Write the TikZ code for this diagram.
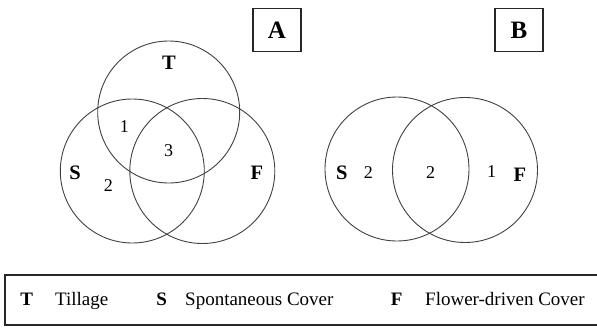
\documentclass[tikz,border=0pt]{standalone}
\usepackage{fontspec}
\setmainfont{Liberation Serif}
\begin{document}
\begin{tikzpicture}[x=1pt,y=-1pt,
  setcircle/.style={circle,draw=black!75,line width=0.9pt,inner sep=0pt,minimum size=#1},
  setname/.style={inner sep=0pt,font=\fontsize{20.5}{24}\selectfont\bfseries},
  count/.style={inner sep=0pt,font=\fontsize{18}{21}\selectfont},
  panel/.style={draw=black!85,line width=1.2pt,inner sep=0pt,minimum width=48pt,minimum height=43pt,
    font=\fontsize{25}{28}\selectfont\bfseries},
  keyname/.style={inner sep=0pt,anchor=base,font=\fontsize{19}{22}\selectfont\bfseries},
  keytext/.style={inner sep=0pt,anchor=base west,font=\fontsize{19}{22}\selectfont}]
\useasboundingbox (0,0) rectangle (597,327);
\clip (0,0) rectangle (597,327);

% panel A: three-set diagram
\node[setcircle=142pt] (cT) at (168.7,112) {};
\node[setcircle=144pt] (cS) at (132.3,171) {};
\node[setcircle=145pt] (cF) at (202.3,171) {};
\node[panel] (pA) at (277,30) {A};
\node[setname] (nT) at (169,63) {T};
\node[setname] (nS) at (75,173) {S};
\node[setname] (nF) at (257,173) {F};
\node[count] (k1) at (124.3,127) {1};
\node[count] (k3) at (168.5,151) {3};
\node[count] (k2) at (108.3,186) {2};

% panel B: two-set diagram
\node[setcircle=144pt] (bS) at (397,169) {};
\node[setcircle=145pt] (bF) at (465,170) {};
\node[panel] (pB) at (519,30) {B};
\node[setname] (mS) at (341.7,173) {S};
\node[setname] (mF) at (520,175) {F};
\node[count] (j2a) at (368.3,173) {2};
\node[count] (j2b) at (430.7,173) {2};
\node[count] (j1) at (491.7,172) {1};

% legend
\draw[draw=black!85,line width=1.2pt] (600,275) -| (5,325) -- (600,325);
\node[keyname] (lT) at (26.7,305) {T};
\node[keytext] (tT) at (55,305) {Tillage};
\node[keyname] (lS) at (161.7,305) {S};
\node[keytext] (tS) at (185,305) {Spontaneous Cover};
\node[keyname] (lF) at (396.7,305) {F};
\node[keytext] (tF) at (425,305) {Flower-driven Cover};
\end{tikzpicture}
\end{document}
